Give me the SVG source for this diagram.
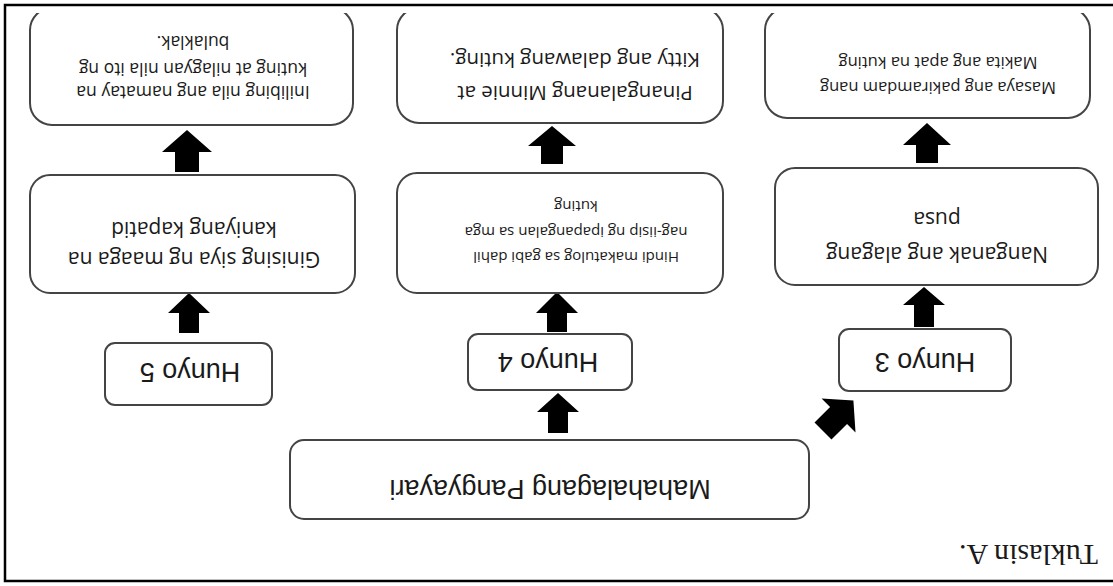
<svg xmlns="http://www.w3.org/2000/svg" width="1113" height="586" viewBox="0 0 1113 586">
<style>
.box{fill:#fff;stroke:#444;stroke-width:2}
.t{font-family:"Open Sans","Noto Sans",sans-serif;fill:#1a1a1a;text-anchor:middle;dominant-baseline:central}
.h{font-family:"Liberation Sans",Arial,sans-serif;font-size:27px;fill:#1a1a1a;text-anchor:middle;dominant-baseline:central}
.arrow{fill:#000}
.frame{fill:none;stroke:#000;stroke-width:2.5}
</style>
<defs>
<clipPath id="clip"><rect x="0" y="0" width="1113" height="573"/></clipPath>
</defs>
<rect width="1113" height="586" fill="#fff"/>
<g transform="rotate(180 556.5 293)">
<path class="frame" d="M0 5 H1108 V581 H0"/>
<g id="connectors">
<path class="arrow" d="M914,414 H938 V434 H951 L926,456 L901,434 H914 Z"/>
<path class="arrow" d="M914,253 H934 V273 H945 L924,293 L903,273 H914 Z"/>
<path class="arrow" d="M550,422 H572 V440 H585 L561,460 L537,440 H550 Z"/>
<path class="arrow" d="M546,254 H566 V273 H577 L556,294 L535,273 H546 Z"/>
<path class="arrow" d="M545,153 H565 V174 H576 L555,193 L534,174 H545 Z"/>
<path class="arrow" d="M175,423 H197 V441 H210 L186,463 L162,441 H175 Z"/>
<path class="arrow" d="M179,259 H199 V281 H210 L189,299 L168,281 H179 Z"/>
<path class="arrow" transform="translate(290,155) rotate(45)" d="M-12,0 H12 V22 H24 L0,43 L-24,22 H-12 Z"/>
</g>
<g id="pangyayari">
<rect class="box" x="304" y="67" width="519" height="79" rx="14"/>
<text class="h" x="563" y="97">Mahahalagang Pangyayari</text>
</g>
<g id="hunyo5">
<rect class="box" x="841" y="181" width="167" height="62" rx="10"/>
<text class="h" x="923" y="214">Hunyo 5</text>
</g>
<g id="hunyo4">
<rect class="box" x="481" y="196" width="164" height="56" rx="10"/>
<text class="h" x="565" y="224">Hunyo 4</text>
</g>
<g id="hunyo3">
<rect class="box" x="102" y="195" width="172" height="62" rx="10"/>
<text class="h" x="188" y="224">Hunyo 3</text>
</g>
<g id="ginising">
<rect class="box" x="758" y="293" width="325" height="118" rx="20"/>
<text class="t" font-size="21" x="919" y="326">Ginising siya ng maaga na</text>
<text class="t" font-size="21" x="919" y="356">kaniyang kapatid</text>
</g>
<g id="hindi">
<rect class="box" x="390" y="293" width="326" height="120" rx="20"/>
<text class="t" font-size="15" x="537" y="328">Hindi makatulog sa gabi dahil</text>
<text class="t" font-size="15" x="537" y="353">nag-iisip ng ipapangalan sa mga</text>
<text class="t" font-size="15" x="537" y="379">kuting</text>
</g>
<g id="nanganak">
<rect class="box" x="15" y="301" width="323" height="117" rx="20"/>
<text class="t" font-size="21" x="176" y="331">Nanganak ang alagang</text>
<text class="t" font-size="21" x="176" y="366">pusa</text>
</g>
<g clip-path="url(#clip)">
<g id="inilibing">
<rect class="box" x="760" y="461" width="323" height="117" rx="22"/>
<text class="t" font-size="17.5" x="920" y="493">Inilibing nila ang namatay na</text>
<text class="t" font-size="17.5" x="920" y="516">kuting at nilagyan nila ito ng</text>
<text class="t" font-size="17.5" x="920" y="543">bulaklak.</text>
</g>
<g id="pinangalanang">
<rect class="box" x="390" y="463" width="326" height="115" rx="22"/>
<text class="t" font-size="20.5" x="538" y="492">Pinangalanang Minnie at</text>
<text class="t" font-size="20.5" x="538" y="525">Kitty ang dalawang kuting.</text>
</g>
<g id="masaya">
<rect class="box" x="23" y="468" width="325" height="110" rx="22"/>
<text class="t" font-size="16.5" x="175" y="498">Masaya ang pakiramdam nang</text>
<text class="t" font-size="16.5" x="175" y="523">Makita ang apat na kuting</text>
</g>
</g>
<text id="tuklasin" x="15" y="41" font-family="'Liberation Serif','Times New Roman',serif" font-size="30" fill="#1a1a1a">Tuklasin A.</text>
</g>
</svg>
